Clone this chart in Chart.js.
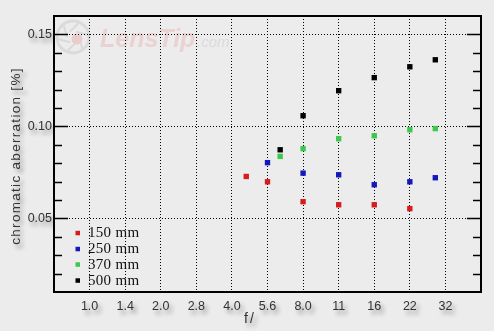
<!DOCTYPE html>
<html>
<head>
<meta charset="utf-8">
<script src="https://cdn.jsdelivr.net/npm/chart.js@4/dist/chart.umd.min.js"></script>
<style>
html,body{margin:0;padding:0;background:#ececec;}
#c{display:block;}
</style>
</head>
<body>
<canvas id="c" width="494" height="331"></canvas>
<script>
// ---- data ----
const fLabels = ['1.0','1.4','2.0','2.8','4.0','5.6','8.0','11','16','22','32'];
const seriesNames = ['150 mm','250 mm','370 mm','500 mm'];
const ap150 = ['4.6','5.6','8.0','11','16','22'];
const ca150 = [0.0728,0.0699,0.0591,0.0574,0.0574,0.0553];
const ap250 = ['5.6','8.0','11','16','22','29'];
const ca250 = [0.0803,0.0746,0.0737,0.0683,0.0699,0.0721];
const ap370 = ['6.4','8.0','11','16','22','29'];
const ca370 = [0.0837,0.0879,0.0933,0.0949,0.0982,0.0988];
const ap500 = ['6.4','8.0','11','16','22','29'];
const ca500 = [0.0873,0.1058,0.1194,0.1265,0.1324,0.1362];
const yMajorLabels = ['0.05','0.10','0.15'];
const colors = ['#d61c1c','#1616bf','#3cc84e','#000000'];

function stopOf(a){
  const i = fLabels.indexOf(a);
  return i >= 0 ? i : 2*Math.log2(parseFloat(a));
}
function pts(aps, vals){ return aps.map((a,i)=>({x:stopOf(a), y:vals[i]})); }
function isMajor(v){ return Math.abs(v*20 - Math.round(v*20)) < 1e-6; }

const deco = {
  id:'deco',
  beforeDraw(chart){
    const ctx = chart.ctx;
    ctx.save();
    ctx.fillStyle = '#ececec';
    ctx.fillRect(0,0,chart.width,chart.height);
    // watermark logo
    const cx = 73, cy = 37;
    ctx.strokeStyle = '#dadada';
    ctx.lineWidth = 3;
    ctx.beginPath(); ctx.arc(cx,cy,16,0,Math.PI*2); ctx.stroke();
    ctx.lineWidth = 2;
    for(let k=0;k<6;k++){
      const a = k*Math.PI/3;
      ctx.beginPath();
      ctx.moveTo(cx+6*Math.cos(a),cy+6*Math.sin(a));
      ctx.lineTo(cx+15*Math.cos(a+0.9),cy+15*Math.sin(a+0.9));
      ctx.stroke();
    }
    ctx.fillStyle = '#e9cccc';
    ctx.beginPath(); ctx.arc(cx+4,cy+2,5.5,0,Math.PI*2); ctx.fill();
    ctx.font = 'italic bold 25px "Liberation Sans"';
    ctx.fillStyle = '#ebd2d2';
    ctx.textBaseline = 'alphabetic';
    ctx.fillText('LensTip',100,47);
    ctx.font = 'italic 15px "Liberation Sans"';
    ctx.fillStyle = '#dcdada';
    ctx.fillText('.com',197,47);
    ctx.restore();
  },
  beforeDatasetsDraw(chart){
    const ctx = chart.ctx, a = chart.chartArea, ys = chart.scales.y;
    ctx.save();
    ctx.strokeStyle = '#000';
    ctx.lineWidth = 1.5;
    ys.ticks.forEach(t=>{
      const y = Math.round(ys.getPixelForValue(t.value))+0.5;
      if (y < a.top+1 || y > a.bottom-1) return;
      const len = isMajor(t.value) ? 14 : 8;
      ctx.beginPath();
      ctx.moveTo(a.left,y); ctx.lineTo(a.left+len,y);
      ctx.moveTo(a.right,y); ctx.lineTo(a.right-len,y);
      ctx.stroke();
    });
    ctx.lineWidth = 2;
    ctx.strokeRect(a.left, a.top, a.right-a.left, a.bottom-a.top);
    ctx.restore();
  },
  afterDatasetsDraw(chart){
    const ctx = chart.ctx, a = chart.chartArea;
    ctx.save();
    ctx.shadowColor = 'rgba(0,0,0,0.40)';
    ctx.shadowBlur = 4;
    ctx.shadowOffsetX = 3;
    ctx.shadowOffsetY = 4;
    ctx.fillStyle = '#333';
    ctx.textAlign = 'center';
    ctx.textBaseline = 'middle';
    // y title
    ctx.save();
    ctx.translate(16, (a.top+a.bottom)/2 + 2);
    ctx.rotate(-Math.PI/2);
    ctx.font = '13.5px "Liberation Sans"';
    if ('letterSpacing' in ctx) ctx.letterSpacing = '1.3px';
    ctx.fillText('chromatic aberration [%]', 0, 0);
    ctx.restore();
    // x title
    ctx.save();
    ctx.font = '14px "Liberation Sans"';
    if ('letterSpacing' in ctx) ctx.letterSpacing = '2px';
    ctx.fillText('f/', 250, 319);
    ctx.restore();
    // shadow stays on for tick labels (ticks.z = 1)
  },
  afterDraw(chart){
    const ctx = chart.ctx;
    ctx.restore();
    ctx.save();
    ctx.shadowColor = 'transparent';
    ctx.font = '15px "Liberation Serif"';
    if ('letterSpacing' in ctx) ctx.letterSpacing = '0.3px';
    ctx.textBaseline = 'middle';
    ctx.textAlign = 'left';
    const rows = [233, 249, 264.5, 280.5];
    chart.data.datasets.forEach((ds,i)=>{
      ctx.fillStyle = ds.backgroundColor;
      ctx.fillRect(75.5, rows[i]-2.2, 4.5, 4.5);
      ctx.fillStyle = '#111';
      ctx.fillText(ds.label, 88, rows[i]+0.5);
    });
    ctx.restore();
  }
};

const datasets = [
  {label:seriesNames[0], data:pts(ap150,ca150)},
  {label:seriesNames[1], data:pts(ap250,ca250)},
  {label:seriesNames[2], data:pts(ap370,ca370)},
  {label:seriesNames[3], data:pts(ap500,ca500)}
].map((d,i)=>Object.assign(d,{
  backgroundColor:colors[i], borderColor:colors[i], showLine:false,
  pointStyle:'rect', pointRadius:3.8, pointBorderWidth:0, pointHoverRadius:3.8
}));

new Chart(document.getElementById('c'), {
  type:'scatter',
  data:{datasets},
  plugins:[deco],
  options:{
    responsive:false,
    animation:false,
    devicePixelRatio:1,
    layout:{padding:{left:0,top:16,right:13,bottom:0}},
    plugins:{legend:{display:false}, tooltip:{enabled:false}},
    scales:{
      x:{
        type:'linear', min:-1, max:11,
        afterFit(s){ s.height = 39; },
        border:{display:false, dash:[1,2]},
        grid:{
          drawTicks:false,
          color:(c)=> (c.tick && c.tick.value>=0 && c.tick.value<=10) ? '#000' : 'transparent',
          lineWidth:1
        },
        ticks:{
          stepSize:1, autoSkip:false, maxRotation:0, padding:7, z:1,
          color:'#333', font:{family:'"Liberation Sans"', size:12.5},
          callback:(v)=> (Number.isInteger(v) && v>=0 && v<fLabels.length) ? fLabels[v] : ''
        }
      },
      y:{
        type:'linear', min:0.01, max:0.16,
        afterFit(s){ s.width = 54; },
        border:{display:false, dash:[1,2]},
        grid:{
          drawTicks:false,
          color:(c)=> (c.tick && isMajor(c.tick.value) && c.tick.value>0.011 && c.tick.value<0.159) ? '#000' : 'transparent',
          lineWidth:1
        },
        ticks:{
          stepSize:0.01, autoSkip:false, padding:2, z:1,
          color:'#333', font:{family:'"Liberation Sans"', size:12.5},
          callback:(v)=>{
            if (!isMajor(v)) return '';
            const s = v.toFixed(2);
            return yMajorLabels.includes(s) ? s : '';
          }
        }
      }
    }
  }
});
</script>
</body>
</html>
